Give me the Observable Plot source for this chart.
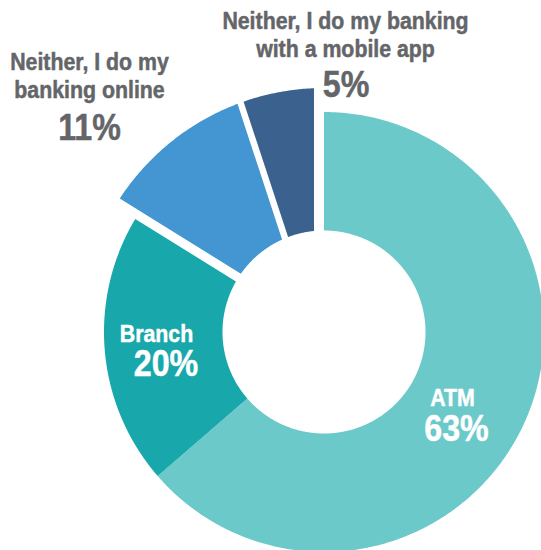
<!DOCTYPE html>
<html>
<head>
<meta charset="utf-8">
<script src="https://cdn.jsdelivr.net/npm/d3@7"></script>
<script src="https://cdn.jsdelivr.net/npm/@observablehq/plot@0.6"></script>
<style>
  html, body { margin: 0; padding: 0; background: #fff; }
  #chart svg { display: block; }
</style>
</head>
<body>
<div id="chart"></div>
<script>
// ---- data ----
const categories = ["ATM", "Branch", "Neither, I do my banking online", "Neither, I do my banking with a mobile app"];
const values = [63, 20, 11, 5];
const nameLabels = ["ATM", "Branch", "Neither, I do my\nbanking online", "Neither, I do my banking\nwith a mobile app"];
const percentLabels = values.map(v => `${v}%`);

// ---- style / layout ----
const colors = ["#6BC9CA", "#18A7AB", "#4396D2", "#3B628E"];
const W = 541, H = 550;
const CX = 323.5, CY = 331.5;           // donut centre within the svg
const innerR = 101.5;
const outerR = [220, 220, 244, 244];     // online & mobile slices pop out
const pads = [[0, 0], [0, 3.5], [5.7, 11], [-4.5, 10]]; // edge offsets (px) for the white gaps
const inside = [true, true, false, false];
const labelLayout = [
  {nx: 128.5, ny: -73.5, px: 132.5, py: -108.5},
  {nx: -167.5, ny: -9.5, px: -158, py: -43.5},
  {nx: -234.5, ny: 234.2, px: -234.5, py: 192},
  {nx: 21.5, ny: 274.8, px: 22, py: 235.5}
];
const FONT = "'Liberation Sans', Arial, sans-serif";
const NARROW = 0.87; // horizontal squeeze to mimic a condensed face
const GRAY = "#646569", WHITE = "#ffffff";

// ---- slice outlines (polar -> cartesian) ----
const total = d3.sum(values);
const rad = Math.PI / 180;
let acc = 0;
const pts = [];
categories.forEach((c, i) => {
  const a0 = acc / total * 360 * rad;
  acc += values[i];
  const a1 = acc / total * 360 * rad;
  const R = outerR[i], r = innerR, [p0, p1] = pads[i];
  const o0 = a0 + Math.asin(p0 / R), o1 = a1 - Math.asin(p1 / R);
  const i0 = a0 + Math.asin(p0 / r), i1 = a1 - Math.asin(p1 / r);
  const n = Math.max(4, Math.ceil((o1 - o0) / rad * 2));
  for (let k = 0; k <= n; k++) {
    const t = o0 + (o1 - o0) * k / n;
    pts.push({slice: c, x: R * Math.sin(t), y: R * Math.cos(t)});
  }
  for (let k = 0; k <= n; k++) {
    const t = i1 + (i0 - i1) * k / n;
    pts.push({slice: c, x: r * Math.sin(t), y: r * Math.cos(t)});
  }
});

const labels = categories.map((c, i) => ({
  name: nameLabels[i], pct: percentLabels[i], inside: inside[i], ...labelLayout[i]
}));
const inLabels = labels.filter(d => d.inside);
const outLabels = labels.filter(d => !d.inside);

const textCommon = {fontFamily: FONT, fontWeight: "bold", textAnchor: "middle", lineAnchor: "bottom", strokeWidth: 0.5};

const chart = Plot.plot({
  width: W, height: H, margin: 0,
  x: {domain: [-CX, W - CX], axis: null},
  y: {domain: [CY - H, CY], axis: null},
  color: {domain: categories, range: colors},
  marks: [
    Plot.line(pts, {x: "x", y: "y", z: "slice", fill: "slice", stroke: "none", curve: "linear-closed"}),
    Plot.text(inLabels, {x: "nx", y: "ny", text: "name", fill: WHITE, stroke: WHITE, fontSize: 24.5, ...textCommon}),
    Plot.text(inLabels, {x: "px", y: "py", text: "pct", fill: WHITE, stroke: WHITE, fontSize: 37, ...textCommon}),
    Plot.text(outLabels, {x: "nx", y: "ny", text: "name", fill: GRAY, stroke: GRAY, fontSize: 24.5, lineHeight: 1.15, ...textCommon}),
    Plot.text(outLabels, {x: "px", y: "py", text: "pct", fill: GRAY, stroke: GRAY, fontSize: 37, ...textCommon})
  ]
});
// condense the lettering horizontally around each label's anchor
chart.querySelectorAll("text").forEach(t => {
  const tr = t.getAttribute("transform") || "";
  t.setAttribute("transform", `${tr} scale(${NARROW},1)`);
});
document.getElementById("chart").appendChild(chart);
</script>
</body>
</html>
